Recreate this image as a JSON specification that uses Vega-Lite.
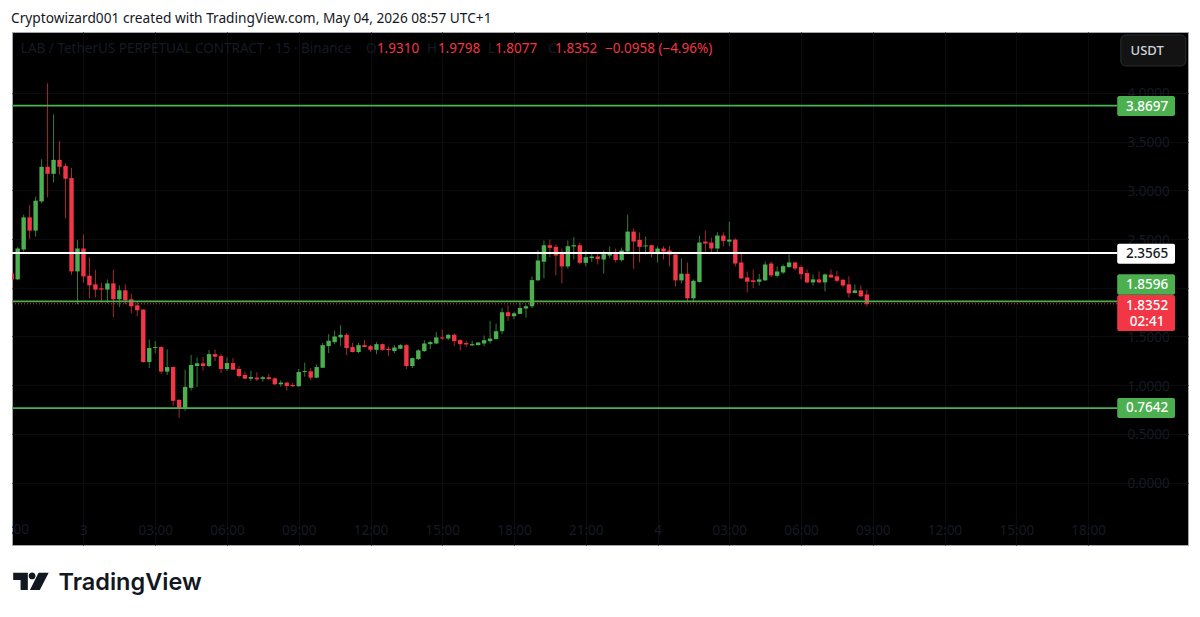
{
  "$schema": "https://vega.github.io/schema/vega-lite/v6.json",
  "autosize": {"type": "none"},
  "padding": {"left": 12, "top": 32, "right": 12, "bottom": 72},
  "width": 1176,
  "height": 513,
  "background": "#ffffff",
  "view": {"fill": "#000000", "stroke": "#a3a6ad", "strokeWidth": 1},
  "config": {"font": "Noto Sans"},
  "title": {
    "text": "Cryptowizard001 created with TradingView.com, May 04, 2026 08:57 UTC+1",
    "anchor": "start",
    "frame": "group",
    "offset": 6,
    "dx": -1,
    "fontSize": 13.7,
    "fontWeight": "normal",
    "color": "#131722"
  },
  "datasets": {
    "candles": [
      {"time":"2026-05-02T21:00:00Z","open":2.144,"high":2.332,"low":1.967,"close":2.086},
      {"time":"2026-05-02T21:15:00Z","open":2.086,"high":2.417,"low":2.08,"close":2.403},
      {"time":"2026-05-02T21:30:00Z","open":2.393,"high":2.751,"low":2.372,"close":2.723},
      {"time":"2026-05-02T21:45:00Z","open":2.723,"high":2.85,"low":2.502,"close":2.587},
      {"time":"2026-05-02T22:00:00Z","open":2.587,"high":2.935,"low":2.526,"close":2.894},
      {"time":"2026-05-02T22:15:00Z","open":2.887,"high":3.32,"low":2.867,"close":3.242},
      {"time":"2026-05-02T22:30:00Z","open":3.242,"high":4.1,"low":2.928,"close":3.17},
      {"time":"2026-05-02T22:45:00Z","open":3.17,"high":3.78,"low":3.081,"close":3.313},
      {"time":"2026-05-02T23:00:00Z","open":3.313,"high":3.507,"low":3.16,"close":3.242},
      {"time":"2026-05-02T23:15:00Z","open":3.252,"high":3.276,"low":2.713,"close":3.119},
      {"time":"2026-05-02T23:30:00Z","open":3.126,"high":3.231,"low":2.134,"close":2.168},
      {"time":"2026-05-02T23:45:00Z","open":2.168,"high":2.492,"low":1.831,"close":2.403},
      {"time":"2026-05-03T00:00:00Z","open":2.403,"high":2.546,"low":2.052,"close":2.117},
      {"time":"2026-05-03T00:15:00Z","open":2.124,"high":2.311,"low":1.892,"close":2.025},
      {"time":"2026-05-03T00:30:00Z","open":2.035,"high":2.185,"low":1.902,"close":1.981},
      {"time":"2026-05-03T00:45:00Z","open":1.994,"high":2.052,"low":1.848,"close":1.981},
      {"time":"2026-05-03T01:00:00Z","open":1.981,"high":2.086,"low":1.844,"close":2.045},
      {"time":"2026-05-03T01:15:00Z","open":2.045,"high":2.185,"low":1.698,"close":1.882},
      {"time":"2026-05-03T01:30:00Z","open":1.882,"high":2.025,"low":1.803,"close":1.974},
      {"time":"2026-05-03T01:45:00Z","open":1.974,"high":2.035,"low":1.831,"close":1.871},
      {"time":"2026-05-03T02:00:00Z","open":1.882,"high":1.94,"low":1.739,"close":1.81},
      {"time":"2026-05-03T02:15:00Z","open":1.82,"high":1.854,"low":1.708,"close":1.769},
      {"time":"2026-05-03T02:30:00Z","open":1.776,"high":1.783,"low":1.23,"close":1.238},
      {"time":"2026-05-03T02:45:00Z","open":1.238,"high":1.469,"low":1.176,"close":1.381},
      {"time":"2026-05-03T03:00:00Z","open":1.381,"high":1.452,"low":1.33,"close":1.391},
      {"time":"2026-05-03T03:15:00Z","open":1.391,"high":1.401,"low":1.115,"close":1.139},
      {"time":"2026-05-03T03:30:00Z","open":1.139,"high":1.367,"low":1.105,"close":1.186},
      {"time":"2026-05-03T03:45:00Z","open":1.186,"high":1.193,"low":0.788,"close":0.839},
      {"time":"2026-05-03T04:00:00Z","open":0.849,"high":0.856,"low":0.665,"close":0.767},
      {"time":"2026-05-03T04:15:00Z","open":0.767,"high":1.159,"low":0.737,"close":0.982},
      {"time":"2026-05-03T04:30:00Z","open":0.972,"high":1.309,"low":0.945,"close":1.207},
      {"time":"2026-05-03T04:45:00Z","open":1.197,"high":1.285,"low":0.982,"close":1.224},
      {"time":"2026-05-03T05:00:00Z","open":1.224,"high":1.292,"low":1.149,"close":1.197},
      {"time":"2026-05-03T05:15:00Z","open":1.197,"high":1.36,"low":1.186,"close":1.319},
      {"time":"2026-05-03T05:30:00Z","open":1.319,"high":1.367,"low":1.248,"close":1.292},
      {"time":"2026-05-03T05:45:00Z","open":1.299,"high":1.319,"low":1.125,"close":1.166},
      {"time":"2026-05-03T06:00:00Z","open":1.166,"high":1.285,"low":1.146,"close":1.227},
      {"time":"2026-05-03T06:15:00Z","open":1.227,"high":1.278,"low":1.155,"close":1.159},
      {"time":"2026-05-03T06:30:00Z","open":1.166,"high":1.197,"low":1.077,"close":1.094},
      {"time":"2026-05-03T06:45:00Z","open":1.105,"high":1.139,"low":1.06,"close":1.067},
      {"time":"2026-05-03T07:00:00Z","open":1.067,"high":1.149,"low":1.043,"close":1.084},
      {"time":"2026-05-03T07:15:00Z","open":1.077,"high":1.132,"low":1.043,"close":1.06},
      {"time":"2026-05-03T07:30:00Z","open":1.064,"high":1.094,"low":1.036,"close":1.081},
      {"time":"2026-05-03T07:45:00Z","open":1.081,"high":1.115,"low":1.05,"close":1.064},
      {"time":"2026-05-03T08:00:00Z","open":1.07,"high":1.081,"low":0.999,"close":1.009},
      {"time":"2026-05-03T08:15:00Z","open":1.009,"high":1.05,"low":0.985,"close":1.026},
      {"time":"2026-05-03T08:30:00Z","open":1.026,"high":1.033,"low":0.944,"close":0.992},
      {"time":"2026-05-03T08:45:00Z","open":1.002,"high":1.023,"low":0.985,"close":0.989},
      {"time":"2026-05-03T09:00:00Z","open":0.989,"high":1.166,"low":0.985,"close":1.135},
      {"time":"2026-05-03T09:15:00Z","open":1.135,"high":1.231,"low":1.087,"close":1.145},
      {"time":"2026-05-03T09:30:00Z","open":1.142,"high":1.176,"low":1.053,"close":1.077},
      {"time":"2026-05-03T09:45:00Z","open":1.077,"high":1.214,"low":1.072,"close":1.186},
      {"time":"2026-05-03T10:00:00Z","open":1.179,"high":1.435,"low":1.175,"close":1.411},
      {"time":"2026-05-03T10:15:00Z","open":1.401,"high":1.524,"low":1.329,"close":1.456},
      {"time":"2026-05-03T10:30:00Z","open":1.442,"high":1.561,"low":1.421,"close":1.5},
      {"time":"2026-05-03T10:45:00Z","open":1.49,"high":1.616,"low":1.401,"close":1.517},
      {"time":"2026-05-03T11:00:00Z","open":1.517,"high":1.534,"low":1.309,"close":1.381},
      {"time":"2026-05-03T11:15:00Z","open":1.391,"high":1.435,"low":1.336,"close":1.34},
      {"time":"2026-05-03T11:30:00Z","open":1.34,"high":1.435,"low":1.329,"close":1.411},
      {"time":"2026-05-03T11:45:00Z","open":1.411,"high":1.462,"low":1.387,"close":1.391},
      {"time":"2026-05-03T12:00:00Z","open":1.401,"high":1.415,"low":1.34,"close":1.363},
      {"time":"2026-05-03T12:15:00Z","open":1.363,"high":1.442,"low":1.319,"close":1.421},
      {"time":"2026-05-03T12:30:00Z","open":1.421,"high":1.428,"low":1.35,"close":1.363},
      {"time":"2026-05-03T12:45:00Z","open":1.374,"high":1.401,"low":1.299,"close":1.36},
      {"time":"2026-05-03T13:00:00Z","open":1.35,"high":1.411,"low":1.329,"close":1.387},
      {"time":"2026-05-03T13:15:00Z","open":1.374,"high":1.421,"low":1.37,"close":1.411},
      {"time":"2026-05-03T13:30:00Z","open":1.411,"high":1.421,"low":1.166,"close":1.197},
      {"time":"2026-05-03T13:45:00Z","open":1.197,"high":1.282,"low":1.176,"close":1.278},
      {"time":"2026-05-03T14:00:00Z","open":1.268,"high":1.37,"low":1.258,"close":1.357},
      {"time":"2026-05-03T14:15:00Z","open":1.35,"high":1.462,"low":1.34,"close":1.428},
      {"time":"2026-05-03T14:30:00Z","open":1.421,"high":1.456,"low":1.37,"close":1.442},
      {"time":"2026-05-03T14:45:00Z","open":1.428,"high":1.544,"low":1.421,"close":1.49},
      {"time":"2026-05-03T15:00:00Z","open":1.49,"high":1.571,"low":1.462,"close":1.479},
      {"time":"2026-05-03T15:15:00Z","open":1.479,"high":1.527,"low":1.462,"close":1.517},
      {"time":"2026-05-03T15:30:00Z","open":1.517,"high":1.534,"low":1.401,"close":1.452},
      {"time":"2026-05-03T15:45:00Z","open":1.462,"high":1.473,"low":1.357,"close":1.421},
      {"time":"2026-05-03T16:00:00Z","open":1.432,"high":1.456,"low":1.391,"close":1.418},
      {"time":"2026-05-03T16:15:00Z","open":1.408,"high":1.456,"low":1.404,"close":1.421},
      {"time":"2026-05-03T16:30:00Z","open":1.411,"high":1.441,"low":1.408,"close":1.438},
      {"time":"2026-05-03T16:45:00Z","open":1.428,"high":1.51,"low":1.401,"close":1.462},
      {"time":"2026-05-03T17:00:00Z","open":1.452,"high":1.66,"low":1.428,"close":1.479},
      {"time":"2026-05-03T17:15:00Z","open":1.473,"high":1.633,"low":1.47,"close":1.554},
      {"time":"2026-05-03T17:30:00Z","open":1.554,"high":1.793,"low":1.524,"close":1.749},
      {"time":"2026-05-03T17:45:00Z","open":1.749,"high":1.82,"low":1.66,"close":1.708},
      {"time":"2026-05-03T18:00:00Z","open":1.708,"high":1.755,"low":1.677,"close":1.738},
      {"time":"2026-05-03T18:15:00Z","open":1.732,"high":1.851,"low":1.728,"close":1.793},
      {"time":"2026-05-03T18:30:00Z","open":1.786,"high":1.827,"low":1.694,"close":1.81},
      {"time":"2026-05-03T18:45:00Z","open":1.81,"high":2.117,"low":1.793,"close":2.079},
      {"time":"2026-05-03T19:00:00Z","open":2.076,"high":2.389,"low":2.072,"close":2.28},
      {"time":"2026-05-03T19:15:00Z","open":2.267,"high":2.485,"low":2.096,"close":2.437},
      {"time":"2026-05-03T19:30:00Z","open":2.437,"high":2.495,"low":2.314,"close":2.41},
      {"time":"2026-05-03T19:45:00Z","open":2.42,"high":2.443,"low":2.127,"close":2.331},
      {"time":"2026-05-03T20:00:00Z","open":2.348,"high":2.403,"low":2.045,"close":2.219},
      {"time":"2026-05-03T20:15:00Z","open":2.219,"high":2.485,"low":2.195,"close":2.427},
      {"time":"2026-05-03T20:30:00Z","open":2.424,"high":2.519,"low":2.29,"close":2.437},
      {"time":"2026-05-03T20:45:00Z","open":2.437,"high":2.464,"low":2.239,"close":2.256},
      {"time":"2026-05-03T21:00:00Z","open":2.256,"high":2.382,"low":2.219,"close":2.314},
      {"time":"2026-05-03T21:15:00Z","open":2.304,"high":2.359,"low":2.267,"close":2.321},
      {"time":"2026-05-03T21:30:00Z","open":2.321,"high":2.369,"low":2.239,"close":2.294},
      {"time":"2026-05-03T21:45:00Z","open":2.29,"high":2.382,"low":2.147,"close":2.345},
      {"time":"2026-05-03T22:00:00Z","open":2.331,"high":2.424,"low":2.304,"close":2.348},
      {"time":"2026-05-03T22:15:00Z","open":2.348,"high":2.403,"low":2.26,"close":2.284},
      {"time":"2026-05-03T22:30:00Z","open":2.284,"high":2.413,"low":2.267,"close":2.382},
      {"time":"2026-05-03T22:45:00Z","open":2.372,"high":2.751,"low":2.368,"close":2.577},
      {"time":"2026-05-03T23:00:00Z","open":2.577,"high":2.608,"low":2.195,"close":2.475},
      {"time":"2026-05-03T23:15:00Z","open":2.492,"high":2.567,"low":2.26,"close":2.42},
      {"time":"2026-05-03T23:30:00Z","open":2.424,"high":2.526,"low":2.342,"close":2.434},
      {"time":"2026-05-03T23:45:00Z","open":2.437,"high":2.444,"low":2.311,"close":2.352},
      {"time":"2026-05-04T00:00:00Z","open":2.348,"high":2.427,"low":2.26,"close":2.403},
      {"time":"2026-05-04T00:15:00Z","open":2.403,"high":2.427,"low":2.29,"close":2.372},
      {"time":"2026-05-04T00:30:00Z","open":2.382,"high":2.43,"low":2.219,"close":2.342},
      {"time":"2026-05-04T00:45:00Z","open":2.342,"high":2.362,"low":2.014,"close":2.076},
      {"time":"2026-05-04T01:00:00Z","open":2.076,"high":2.301,"low":2.045,"close":2.144},
      {"time":"2026-05-04T01:15:00Z","open":2.144,"high":2.26,"low":1.851,"close":1.892},
      {"time":"2026-05-04T01:30:00Z","open":1.892,"high":2.086,"low":1.861,"close":2.072},
      {"time":"2026-05-04T01:45:00Z","open":2.059,"high":2.536,"low":2.055,"close":2.464},
      {"time":"2026-05-04T02:00:00Z","open":2.474,"high":2.587,"low":2.372,"close":2.454},
      {"time":"2026-05-04T02:15:00Z","open":2.464,"high":2.515,"low":2.351,"close":2.403},
      {"time":"2026-05-04T02:30:00Z","open":2.403,"high":2.57,"low":2.351,"close":2.536},
      {"time":"2026-05-04T02:45:00Z","open":2.536,"high":2.57,"low":2.423,"close":2.481},
      {"time":"2026-05-04T03:00:00Z","open":2.474,"high":2.679,"low":2.427,"close":2.495},
      {"time":"2026-05-04T03:15:00Z","open":2.495,"high":2.508,"low":2.219,"close":2.249},
      {"time":"2026-05-04T03:30:00Z","open":2.26,"high":2.362,"low":2.092,"close":2.096},
      {"time":"2026-05-04T03:45:00Z","open":2.106,"high":2.167,"low":1.953,"close":2.062},
      {"time":"2026-05-04T04:00:00Z","open":2.076,"high":2.188,"low":1.997,"close":2.059},
      {"time":"2026-05-04T04:15:00Z","open":2.062,"high":2.144,"low":2.024,"close":2.086},
      {"time":"2026-05-04T04:30:00Z","open":2.076,"high":2.27,"low":2.069,"close":2.239},
      {"time":"2026-05-04T04:45:00Z","open":2.249,"high":2.27,"low":2.106,"close":2.127},
      {"time":"2026-05-04T05:00:00Z","open":2.123,"high":2.219,"low":2.106,"close":2.167},
      {"time":"2026-05-04T05:15:00Z","open":2.157,"high":2.239,"low":2.14,"close":2.222},
      {"time":"2026-05-04T05:30:00Z","open":2.212,"high":2.341,"low":2.208,"close":2.26},
      {"time":"2026-05-04T05:45:00Z","open":2.26,"high":2.267,"low":2.178,"close":2.198},
      {"time":"2026-05-04T06:00:00Z","open":2.212,"high":2.229,"low":2.086,"close":2.14},
      {"time":"2026-05-04T06:15:00Z","open":2.151,"high":2.188,"low":2.045,"close":2.055},
      {"time":"2026-05-04T06:30:00Z","open":2.055,"high":2.137,"low":2.024,"close":2.086},
      {"time":"2026-05-04T06:45:00Z","open":2.086,"high":2.167,"low":2.045,"close":2.055},
      {"time":"2026-05-04T07:00:00Z","open":2.055,"high":2.147,"low":1.963,"close":2.137},
      {"time":"2026-05-04T07:15:00Z","open":2.134,"high":2.188,"low":2.102,"close":2.106},
      {"time":"2026-05-04T07:30:00Z","open":2.117,"high":2.171,"low":2.055,"close":2.072},
      {"time":"2026-05-04T07:45:00Z","open":2.082,"high":2.093,"low":2.004,"close":2.024},
      {"time":"2026-05-04T08:00:00Z","open":2.035,"high":2.117,"low":1.898,"close":1.943},
      {"time":"2026-05-04T08:15:00Z","open":1.946,"high":2.035,"low":1.943,"close":1.973},
      {"time":"2026-05-04T08:30:00Z","open":1.973,"high":2.025,"low":1.902,"close":1.912},
      {"time":"2026-05-04T08:45:00Z","open":1.931,"high":1.9798,"low":1.8077,"close":1.8352}
    ],
    "levels": [
      {"price": 3.8697, "kind": "support"},
      {"price": 2.3565, "kind": "pivot"},
      {"price": 1.8596, "kind": "support"},
      {"price": 0.7642, "kind": "support"}
    ],
    "tags": [
      {"kind": "support", "lo": 3.764, "hi": 3.969},
      {"kind": "pivot", "lo": 2.247, "hi": 2.453},
      {"kind": "support", "lo": 1.929, "hi": 2.139},
      {"kind": "last", "lo": 1.556, "hi": 1.926},
      {"kind": "support", "lo": 0.663, "hi": 0.869}
    ],
    "tagLabels": [
      {"label": "3.8697", "at": 3.861, "kind": "support"},
      {"label": "2.3565", "at": 2.347, "kind": "pivot"},
      {"label": "1.8596", "at": 2.029, "kind": "support"},
      {"label": "1.8352", "at": 1.813, "kind": "last"},
      {"label": "02:41", "at": 1.649, "kind": "last"},
      {"label": "0.7642", "at": 0.761, "kind": "support"}
    ],
    "legendText": [
      {"time": "2026-05-02T21:23:00Z", "label": "LAB / TetherUS PERPETUAL CONTRACT · 15 · Binance", "tone": "dim"},
      {"time": "2026-05-03T11:49:00Z", "label": "O", "tone": "dim"},
      {"time": "2026-05-03T12:16:00Z", "label": "1.9310", "tone": "red"},
      {"time": "2026-05-03T14:22:00Z", "label": "H", "tone": "dim"},
      {"time": "2026-05-03T14:49:00Z", "label": "1.9798", "tone": "red"},
      {"time": "2026-05-03T16:55:00Z", "label": "L", "tone": "dim"},
      {"time": "2026-05-03T17:12:00Z", "label": "1.8077", "tone": "red"},
      {"time": "2026-05-03T19:25:00Z", "label": "C", "tone": "dim"},
      {"time": "2026-05-03T19:43:00Z", "label": "1.8352", "tone": "red"},
      {"time": "2026-05-03T21:48:00Z", "label": "−0.0958 (−4.96%)", "tone": "red"}
    ]
  },
  "layer": [
    {
      "data": {"name": "candles"},
      "mark": {"type": "rule", "strokeWidth": 1, "opacity": 0.7, "clip": true},
      "encoding": {
        "x": {
          "field": "time",
          "type": "temporal",
          "scale": {"type": "utc", "domain": [1777755645000, 1777932634000], "nice": false, "padding": 0},
          "axis": {
            "title": "TradingView",
            "titleFont": "Inter",
            "titleFontSize": 23.5,
            "titleFontWeight": 600,
            "titleColor": "#131722",
            "titleAlign": "left",
            "titleBaseline": "middle",
            "titleX": 46,
            "titleY": 37,
            "domain": false,
            "ticks": false,
            "values": [1777766400000, 1777777200000, 1777788000000, 1777798800000, 1777809600000, 1777820400000, 1777831200000, 1777842000000, 1777852800000, 1777863600000, 1777874400000, 1777885200000, 1777896000000, 1777906800000, 1777917600000],
            "grid": true,
            "gridColor": "#0b0c10",
            "labelPadding": -22,
            "labelFontSize": 13.5,
            "labelColor": "#161a25",
            "labelOverlap": false,
            "labelExpr": "utchours(datum.value) == 0 ? '' + utcdate(datum.value) : utcFormat(datum.value, '%H:%M')"
          }
        },
        "y": {
          "field": "low",
          "type": "quantitative",
          "scale": {"domain": [-0.641, 4.626], "nice": false, "zero": false},
          "axis": {
            "title": null,
            "orient": "right",
            "domain": false,
            "ticks": false,
            "values": [0, 0.5, 1, 1.5, 2, 2.5, 3, 3.5, 4],
            "format": ".4f",
            "grid": true,
            "gridColor": "#0b0c10",
            "labelPadding": -61,
            "labelOffset": 1,
            "labelFontSize": 13.5,
            "labelColor": "#161a25"
          }
        },
        "y2": {"field": "high"},
        "color": {"condition": {"test": "datum.close >= datum.open", "value": "#4caf50"}, "value": "#f23645"}
      }
    },
    {
      "data": {"name": "candles"},
      "mark": {"type": "bar", "size": 4.4, "clip": true},
      "encoding": {
        "x": {"field": "time", "type": "temporal"},
        "y": {"field": "open", "type": "quantitative"},
        "y2": {"field": "close"},
        "color": {"condition": {"test": "datum.close >= datum.open", "value": "#4caf50"}, "value": "#f23645"}
      }
    },
    {
      "data": {"name": "levels"},
      "mark": {"type": "rule"},
      "encoding": {
        "x": {"datum": 1777755645000, "type": "temporal"},
        "x2": {"datum": 1777921980000},
        "y": {"field": "price", "type": "quantitative"},
        "strokeWidth": {"condition": {"test": "datum.kind == 'pivot'", "value": 2}, "value": 1.8},
        "color": {
          "field": "kind",
          "type": "nominal",
          "scale": {"domain": ["support", "pivot", "last"], "range": ["#4caf50", "#ffffff", "#f23645"]},
          "legend": null
        }
      }
    },
    {
      "data": {"values": [{"price": 1.8352}]},
      "mark": {"type": "rule", "strokeWidth": 1, "strokeDash": [1, 2], "color": "#f23645"},
      "encoding": {
        "x": {"datum": 1777755645000, "type": "temporal"},
        "x2": {"datum": 1777921980000},
        "y": {"field": "price", "type": "quantitative"}
      }
    },
    {
      "data": {"name": "tags"},
      "mark": {"type": "rect", "cornerRadius": 2},
      "encoding": {
        "x": {"datum": 1777921980000, "type": "temporal"},
        "x2": {"datum": 1777930680000},
        "y": {"field": "lo", "type": "quantitative"},
        "y2": {"field": "hi"},
        "color": {"field": "kind", "type": "nominal", "legend": null}
      }
    },
    {
      "data": {"name": "tagLabels"},
      "mark": {"type": "text", "fontSize": 13.5, "fontWeight": 500, "align": "center", "baseline": "middle"},
      "encoding": {
        "x": {"datum": 1777926480000, "type": "temporal"},
        "y": {"field": "at", "type": "quantitative"},
        "text": {"field": "label"},
        "color": {"condition": {"test": "datum.kind == 'pivot'", "value": "#131722"}, "value": "#ffffff"}
      }
    },
    {
      "data": {"values": [{"y0": 4.277, "y1": 4.596}]},
      "mark": {"type": "rect", "cornerRadius": 5, "fill": "#131313", "stroke": "#2a2c31", "strokeWidth": 1},
      "encoding": {
        "x": {"datum": 1777922520000, "type": "temporal"},
        "x2": {"datum": 1777932300000},
        "y": {"field": "y0", "type": "quantitative"},
        "y2": {"field": "y1"}
      }
    },
    {
      "data": {"values": [{"label": "USDT", "at": 4.431}]},
      "mark": {"type": "text", "fontSize": 13, "fontWeight": 500, "color": "#d1d4dc", "align": "center", "baseline": "middle"},
      "encoding": {
        "x": {"datum": 1777926480000, "type": "temporal"},
        "y": {"field": "at", "type": "quantitative"},
        "text": {"field": "label"}
      }
    },
    {
      "data": {"name": "legendText"},
      "mark": {"type": "text", "fontSize": 13.5, "align": "left", "baseline": "middle"},
      "encoding": {
        "x": {"field": "time", "type": "temporal"},
        "y": {"datum": 4.452, "type": "quantitative"},
        "text": {"field": "label"},
        "color": {"condition": {"test": "datum.tone == 'dim'", "value": "#161a25"}, "value": "#f23645"}
      }
    },
    {
      "data": {"values": [{"time": "2026-05-02T21:00:00Z", "label": "21:00"}]},
      "mark": {"type": "text", "fontSize": 13.5, "color": "#161a25", "baseline": "middle", "clip": true},
      "encoding": {
        "x": {"field": "time", "type": "temporal"},
        "y": {"datum": -0.487, "type": "quantitative"},
        "text": {"field": "label"}
      }
    },
    {
      "data": {"values": [{"name": "TradingView logo"}]},
      "mark": {
        "type": "point",
        "filled": true,
        "opacity": 1,
        "color": "#131722",
        "size": 1296,
        "shape": "M-0.98 -0.46H-0.167V0.5H-0.57V-0.055H-0.98ZM-0.12 -0.28A0.19 0.19 0 1 0 0.26 -0.28A0.19 0.19 0 1 0 -0.12 -0.28ZM0.43 -0.46H0.99L0.5 0.5H-0.05Z"
      },
      "encoding": {
        "x": {"datum": 1777758480000, "type": "temporal"},
        "y": {"datum": -1.01, "type": "quantitative"}
      }
    }
  ]
}
